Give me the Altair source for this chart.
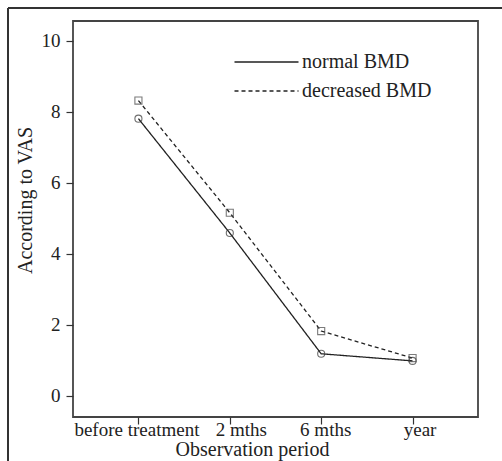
import altair as alt
import pandas as pd

periods = ["before treatment", "2 mths", "6 mths", "year"]
series_names = ["normal BMD", "decreased BMD"]
normal_vals = [7.80, 4.58, 1.18, 0.98]
decreased_vals = [8.31, 5.15, 1.82, 1.06]
y_ticks = [0, 2, 4, 6, 8, 10]

rows = []
for name, vals in zip(series_names, [normal_vals, decreased_vals]):
    for p, v in zip(periods, vals):
        rows.append({"period": p, "series": name, "value": v})
df = pd.DataFrame(rows)

FONT = "Liberation Serif"

label_shift = {
    "condition": [
        {"test": "datum.value == 'before treatment'", "value": -2},
        {"test": "datum.value == '2 mths'", "value": 11},
        {"test": "datum.value == '6 mths'", "value": 4},
    ],
    "value": 7,
}

x_enc = alt.X(
    "period:N",
    sort=periods,
    scale=alt.Scale(type="point", padding=0.716),
    axis=alt.Axis(
        title="Observation period",
        labelAngle=0,
        tickSize=7,
        labelPadding=11,
        labelBaseline="alphabetic",
        labelOffset=label_shift,
        titleBaseline="alphabetic",
        titleAlign="center",
        titleX=179,
        titleY=38,
        domain=False,
        grid=False,
    ),
)
y_enc = alt.Y(
    "value:Q",
    scale=alt.Scale(domain=[-0.6, 10.55], nice=False, zero=False),
    axis=alt.Axis(
        title="According to VAS",
        values=y_ticks,
        tickSize=7,
        labelPadding=6,
        domain=False,
        grid=False,
        titleAngle=270,
        titleX=-48,
        titleY=179,
        titleAlign="center",
        titleBaseline="middle",
    ),
)

lines = alt.Chart(df).mark_line(color="#222", strokeWidth=1.3).encode(
    x=x_enc,
    y=y_enc,
    strokeDash=alt.StrokeDash(
        "series:N",
        scale=alt.Scale(domain=series_names, range=[[1, 0], [4, 3]]),
        legend=alt.Legend(
            title=None,
            orient="none",
            legendX=183.5,
            legendY=31,
            symbolType="M-4,0H4",
            symbolSize=256,
            symbolStrokeColor="#222",
            symbolStrokeWidth=1.3,
            labelOffset=25.5,
            rowPadding=9,
            padding=0,
            labelFontSize=20,
            labelFont=FONT,
            labelColor="#222",
        ),
    ),
)

circles = alt.Chart(df).transform_filter(
    alt.datum.series == series_names[0]
).mark_point(shape="circle", filled=False, size=50, strokeWidth=1.1, color="#333").encode(
    x=alt.X("period:N", sort=periods),
    y=alt.Y("value:Q"),
)
squares = alt.Chart(df).transform_filter(
    alt.datum.series == series_names[1]
).mark_point(shape="square", filled=False, size=50, strokeWidth=1.1, color="#444").encode(
    x=alt.X("period:N", sort=periods),
    y=alt.Y("value:Q"),
)

frame_top = alt.Chart(df).mark_rule(color="#333", strokeWidth=1.5).encode(
    x=alt.value(-65), x2=alt.value(700), y=alt.value(-13)
)
frame_left = alt.Chart(df).mark_rule(color="#333", strokeWidth=1.5).encode(
    x=alt.value(-65), y=alt.value(-13), y2=alt.value(700)
)

chart = (
    alt.layer(frame_top, frame_left, lines, circles, squares)
    .properties(
        width=405,
        height=396,
        autosize=alt.AutoSizeParams(type="none"),
        padding={"left": 73, "top": 21, "right": 24, "bottom": 44},
        background="white",
    )
    .configure_view(stroke="#444", strokeWidth=1.8)
    .configure_axis(
        labelFont=FONT,
        titleFont=FONT,
        labelFontSize=19,
        titleFontSize=20,
        titleFontWeight="normal",
        labelColor="#222",
        titleColor="#222",
        tickColor="#333",
        tickWidth=1.2,
    )
)

chart.save("out.html", embed_options={"renderer": "svg", "actions": False})
